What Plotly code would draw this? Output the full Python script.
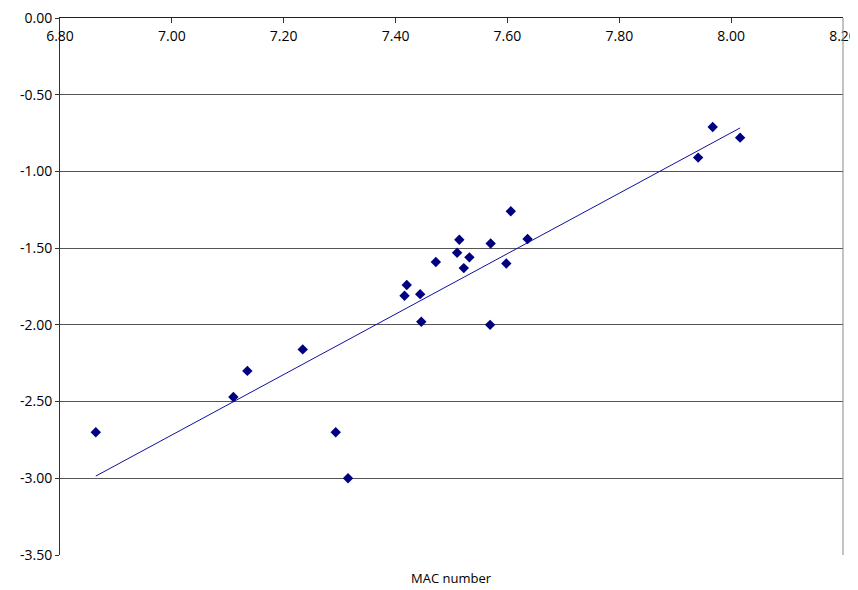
import numpy as np
import plotly.graph_objects as go

mac_number = [6.864, 7.110, 7.135, 7.234, 7.293, 7.315, 7.416, 7.420, 7.444, 7.446,
              7.472, 7.510, 7.514, 7.522, 7.532, 7.569, 7.570, 7.598, 7.606, 7.636,
              7.941, 7.967, 8.016]
response = [-2.70, -2.47, -2.30, -2.16, -2.70, -3.00, -1.81, -1.74, -1.80, -1.98,
            -1.59, -1.53, -1.445, -1.63, -1.56, -2.00, -1.47, -1.60, -1.26, -1.44,
            -0.91, -0.71, -0.78]
x_ticks = [6.8, 7.0, 7.2, 7.4, 7.6, 7.8, 8.0, 8.2]
y_ticks = [0.0, -0.5, -1.0, -1.5, -2.0, -2.5, -3.0, -3.5]

xs = np.array(mac_number)
ys = np.array(response)
slope, intercept = np.polyfit(xs, ys, 1)
trend_x = [xs.min(), xs.max()]
trend_y = [slope * v + intercept for v in trend_x]

font = "Open Sans"
fig = go.Figure()
fig.add_trace(go.Scatter(x=trend_x, y=trend_y, mode="lines",
                         line=dict(color="#1010a0", width=1), showlegend=False,
                         hoverinfo="skip"))
fig.add_trace(go.Scatter(x=mac_number, y=response, mode="markers",
                         marker=dict(symbol="diamond", size=8, color="#000080",
                                     line=dict(width=0)),
                         showlegend=False))
# invisible helper trace so the label axis is drawn
fig.add_trace(go.Scatter(x=[x_ticks[0], x_ticks[-1]], y=[y_ticks[0], y_ticks[0]],
                         xaxis="x2", mode="markers", marker=dict(opacity=0),
                         showlegend=False, hoverinfo="skip"))

# page body has an 8px margin, so the figure is offset by 8px
fig.update_layout(
    width=850, height=582,
    margin=dict(l=52, r=15, t=10, b=35),
    paper_bgcolor="white", plot_bgcolor="white",
    font=dict(family=font, size=14, color="black"),
    xaxis=dict(range=[6.8, 8.2], side="top", tickvals=x_ticks,
               showticklabels=False, ticks="inside", ticklen=5,
               tickcolor="#333", showline=True, linecolor="#222", linewidth=1,
               showgrid=False, zeroline=False, automargin=False),
    xaxis2=dict(range=[6.8, 8.2], overlaying="x", side="bottom", anchor="free",
                position=1, tickvals=x_ticks,
                ticktext=[f"{v:.2f}" for v in x_ticks], ticks="",
                showline=False, showgrid=False, zeroline=False, automargin=False,
                ticklabeloverflow="allow",
                ticklabelstandoff=8, tickfont=dict(size=14, color="black")),
    yaxis=dict(range=[-3.5, 0.0], tickvals=y_ticks,
               ticktext=[f"{v:.2f}" for v in y_ticks],
               ticks="outside", ticklen=4, tickcolor="#333",
               showline=True, linecolor="#333", linewidth=1,
               showgrid=True, gridcolor="#555", gridwidth=1,
               zeroline=False, automargin=False, ticklabeloverflow="allow",
               tickfont=dict(size=14, color="black")),
    shapes=[dict(type="line", xref="paper", yref="paper", x0=1, x1=1, y0=0, y1=1,
                 line=dict(color="#888", width=1))],
    annotations=[dict(text="MAC number", xref="paper", yref="paper", x=0.5, y=0,
                      yshift=-23, showarrow=False, yanchor="middle",
                      font=dict(size=13))],
)

fig.write_html("out.html")
